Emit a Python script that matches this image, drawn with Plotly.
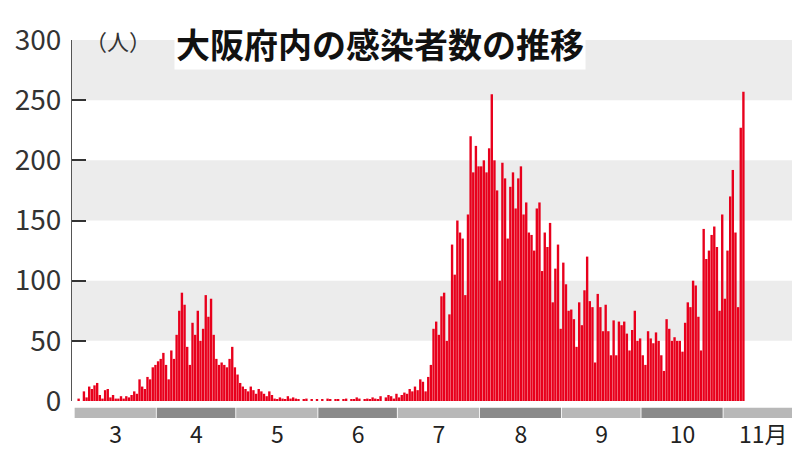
import plotly.graph_objects as go
import pandas as pd

start = "2020-03-01"
mar = [0,2,0,8,3,12,10,13,15,5,2,9,10,3,5,2,2,4,2,4,3,5,8,6,18,12,10,20,18,28,30]
apr = [33,35,40,30,18,42,35,55,75,90,80,45,30,65,55,75,50,60,88,70,85,55,35,30,32,30,28,35,45,28]
may = [22,15,12,10,8,12,9,6,10,8,6,4,8,5,2,1,3,2,1,4,2,3,2,1,0,1,2,0,1,0,1]
jun = [0,1,0,2,1,0,1,1,0,1,2,0,1,1,3,2,0,1,2,1,3,2,1,4,0,3,5,4,2,6]
jul = [3,5,7,6,10,8,12,9,18,16,8,20,30,60,66,55,87,90,50,72,130,105,150,140,135,88,155,220,190,212,195]
aug = [195,200,190,210,255,200,175,100,198,185,135,178,190,160,185,195,155,165,140,138,
       125,160,165,108,140,128,148,82,110,130]
tail = [60,115,97,75,76,68,45,82,63,92,120,83,78,32,89,78,58,80,58,38,67,38,66,63,66,56,42,
        59,75,50,52,38,30,58,52,48,57,50,38,25,68,60,50,53,50,50,41,65,82,78,100,96,70,42,143,118,125,
        138,145,128,75,155,85,125,170,192,140,78,227,257]
values = mar + apr + may + jun + jul + aug + tail
dates = pd.date_range(start, periods=len(values), freq="D")

month_starts = pd.date_range("2020-03-01", "2020-11-01", freq="MS")
month_labels = ["3", "4", "5", "6", "7", "8", "9", "10", "11月"]
yticks = [0, 50, 100, 150, 200, 250, 300]

fig = go.Figure(go.Bar(x=dates, y=values, marker=dict(color="#e8001c", line=dict(width=0)),
                       width=86400000*0.9))

shapes = []
for lo in (50, 150, 250):
    shapes.append(dict(type="rect", xref="paper", yref="y", x0=0, x1=1, y0=lo, y1=lo+50,
                       fillcolor="#ececec", line=dict(width=0), layer="below"))
ends = list(month_starts[1:]) + [pd.Timestamp("2020-12-01")]
for i, (s, e) in enumerate(zip(month_starts, ends)):
    shapes.append(dict(type="rect", xref="x", yref="paper",
                       x0=s - pd.Timedelta(hours=12), x1=e - pd.Timedelta(hours=20),
                       y0=-0.047, y1=-0.019, fillcolor="#8a8a8a" if i % 2 else "#b8b8b8",
                       line=dict(width=0)))
mids = [s + (e - s) / 2 - pd.Timedelta(hours=12) for s, e in zip(month_starts, ends)]

fig.update_layout(
    width=800, height=450, margin=dict(l=64, r=5, t=32, b=57, autoexpand=False),
    plot_bgcolor="white", paper_bgcolor="white", showlegend=False, shapes=shapes,
    font=dict(family="Noto Sans CJK JP", color="#222"),
    xaxis=dict(range=[pd.Timestamp("2020-02-28 12:00"), pd.Timestamp("2020-11-30 12:00")],
               tickvals=mids, ticktext=month_labels, ticks="", showgrid=False, automargin=False,
               tickfont=dict(size=23), ticklabelstandoff=18, zeroline=False),
    yaxis=dict(range=[0, 300], tickvals=yticks, ticks="inside", ticklen=14, tickwidth=2,
               tickcolor="#333", showgrid=False, zeroline=False, automargin=False,
               tickfont=dict(size=28, family="Liberation Sans Narrow, Noto Sans CJK JP", color="#333"),
               showline=True, linecolor="#555", linewidth=1, ticklabelstandoff=4),
)
fig.add_annotation(text="（人）", xref="paper", yref="paper", x=0.015, y=1.0, xanchor="left",
                   yanchor="middle", showarrow=False, font=dict(size=22, color="#333"))
fig.add_annotation(text="<b>大阪府内の感染者数の推移</b>", xref="paper", yref="paper", x=0.14, y=0.99,
                   xanchor="left", yanchor="middle", showarrow=False,
                   font=dict(size=34, color="#111"), bgcolor="white")
fig.write_html("out.html")
